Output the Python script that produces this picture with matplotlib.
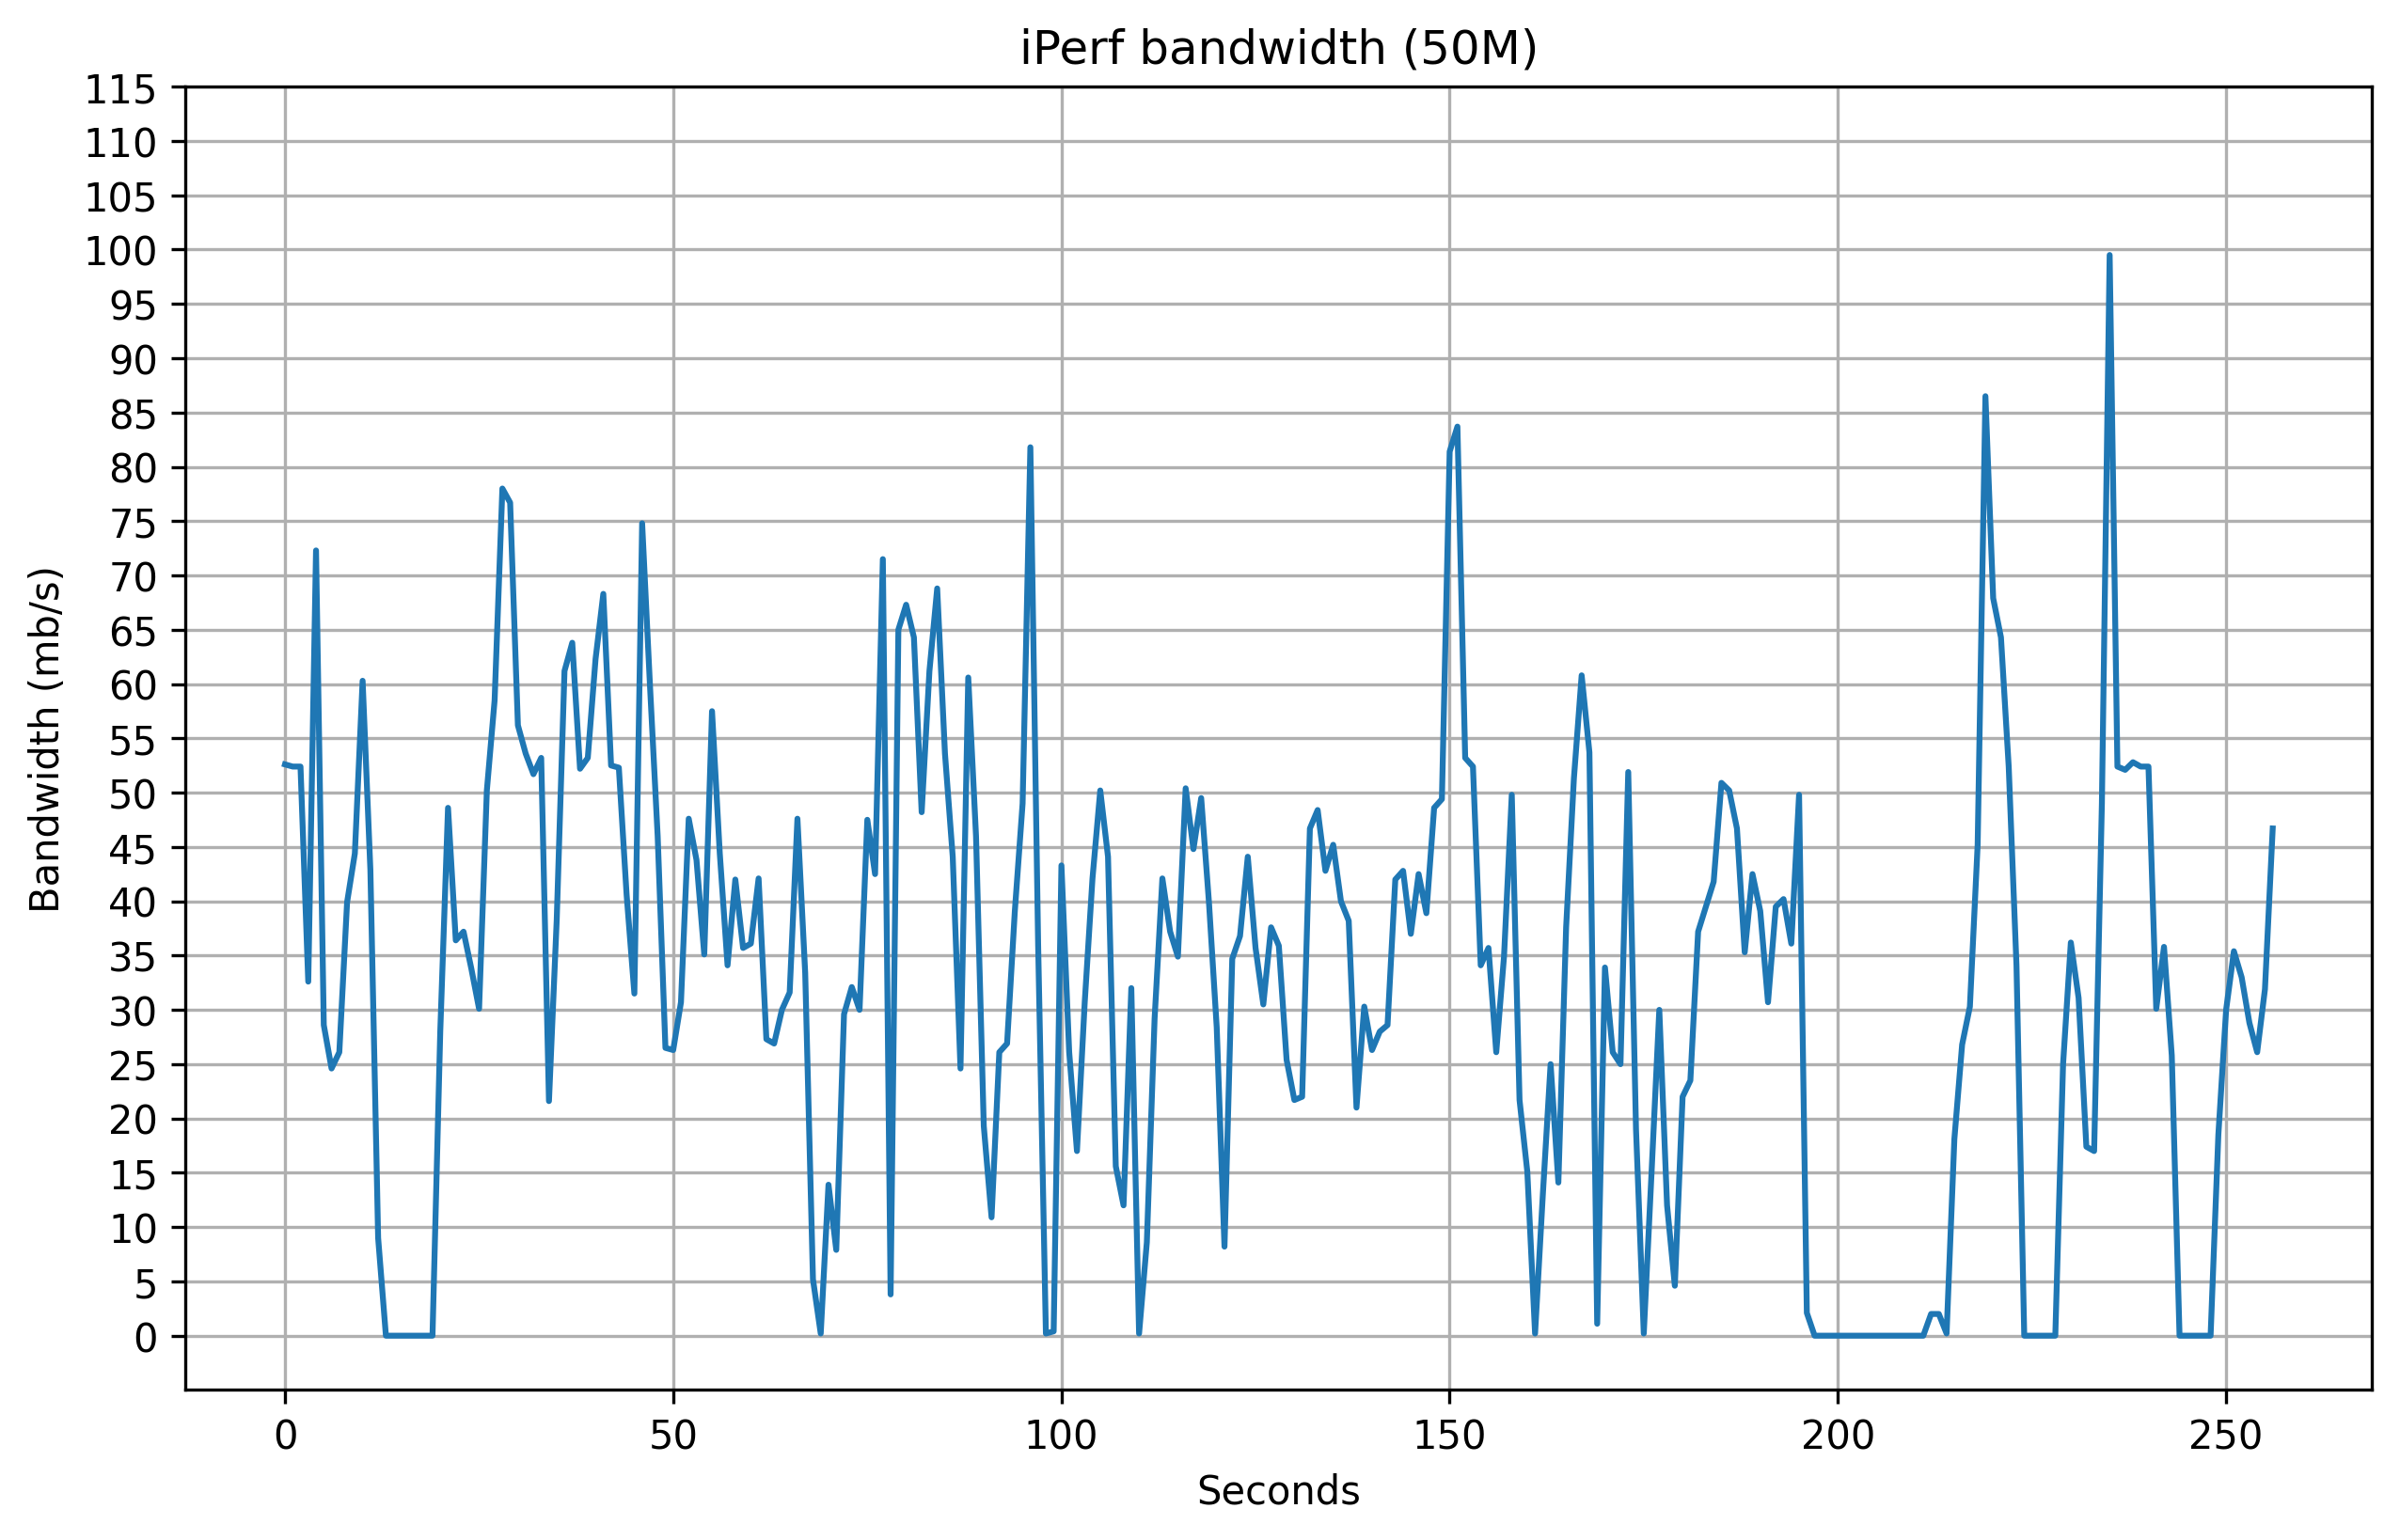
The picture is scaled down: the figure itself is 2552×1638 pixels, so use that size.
import matplotlib
matplotlib.use("Agg")
import matplotlib.pyplot as plt
import numpy as np

# bandwidth per second (mb/s)
bandwidth = [
    52.6, 52.4, 52.4, 32.6, 72.3, 28.6, 24.6, 26.1, 39.9, 44.4,
    60.3, 42.9, 9.0, 0, 0, 0, 0, 0, 0, 0,
    28.0, 48.6, 36.4, 37.2, 33.8, 30.1, 50.2, 58.5, 78.0, 76.7,
    56.2, 53.6, 51.7, 53.2, 21.6, 38.3, 61.2, 63.8, 52.2, 53.2,
    62.3, 68.3, 52.5, 52.3, 40.6, 31.5, 74.8, 60.0, 46.0, 26.5,
    26.3, 30.7, 47.6, 43.8, 35.1, 57.5, 44.4, 34.1, 42.0, 35.7,
    36.1, 42.1, 27.3, 26.9, 30.0, 31.6, 47.6, 33.4, 5.2, 0.2,
    13.9, 7.9, 29.6, 32.1, 30.0, 47.5, 42.5, 71.5, 3.8, 65.0,
    67.3, 64.3, 48.2, 61.2, 68.8, 53.6, 44.1, 24.6, 60.6, 46.0,
    19.3, 10.9, 26.1, 26.9, 39.1, 49.0, 81.8, 36.0, 0.2, 0.4,
    43.3, 26.1, 17.0, 30.7, 42.1, 50.2, 44.1, 15.6, 12.0, 32.0,
    0.2, 8.6, 29.2, 42.1, 37.2, 34.9, 50.4, 44.8, 49.5, 39.9,
    28.4, 8.2, 34.7, 36.8, 44.1, 35.7, 30.5, 37.6, 35.9, 25.4,
    21.7, 22.0, 46.7, 48.4, 42.8, 45.2, 40.0, 38.2, 21.0, 30.3,
    26.3, 28.0, 28.6, 42.0, 42.8, 37.0, 42.5, 38.9, 48.6, 49.4,
    81.4, 83.7, 53.2, 52.4, 34.1, 35.7, 26.1, 34.9, 49.8, 21.7,
    15.1, 0.2, 13.0, 25.0, 14.1, 37.6, 51.3, 60.8, 53.7, 1.1,
    33.9, 26.1, 25.0, 51.9, 19.0, 0.2, 15.0, 30.0, 12.0, 4.6,
    22.0, 23.5, 37.2, 39.5, 41.8, 50.9, 50.2, 46.7, 35.3, 42.5,
    39.1, 30.7, 39.5, 40.2, 36.1, 49.8, 2.1, 0, 0, 0,
    0, 0, 0, 0, 0, 0, 0, 0, 0, 0,
    0, 0, 2.0, 2.0, 0.2, 18.1, 26.8, 30.3, 45.2, 86.5,
    67.9, 64.3, 52.4, 34.1, 0, 0, 0, 0, 0, 25.0,
    36.2, 31.1, 17.4, 17.0, 49.0, 99.5, 52.4, 52.1, 52.8, 52.4,
    52.4, 30.1, 35.8, 25.8, 0, 0, 0, 0, 0, 18.5,
    30.0, 35.4, 33.0, 28.8, 26.1, 31.9, 46.7,
]
seconds = list(range(len(bandwidth)))
ytick_values = list(range(0, 120, 5))

plt.figure(figsize=(10, 6))
plt.plot(seconds, bandwidth, linestyle='-')

plt.title('iPerf bandwidth (50M)')
plt.xlabel('Seconds')
plt.ylabel('Bandwidth (mb/s)')
plt.yticks(ytick_values)
plt.grid(True)

plt.savefig('out.png', dpi=300, bbox_inches='tight')
